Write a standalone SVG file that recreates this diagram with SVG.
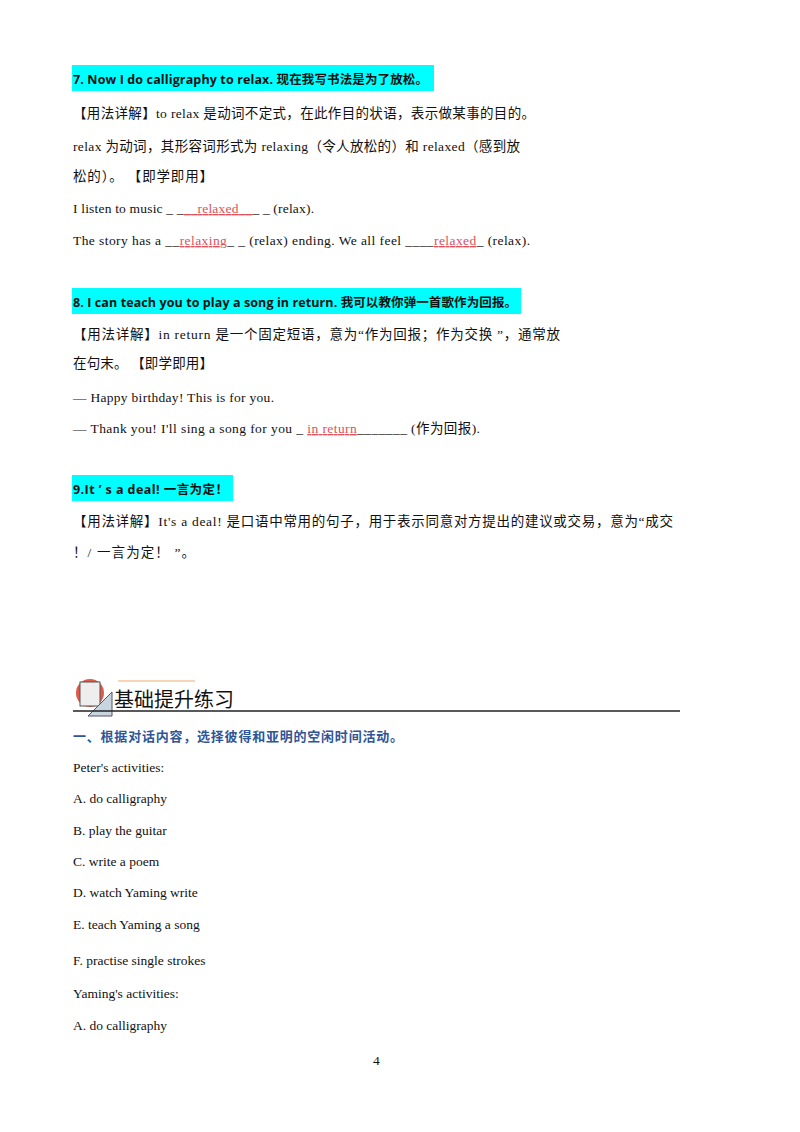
<svg xmlns="http://www.w3.org/2000/svg" width="800" height="1132" viewBox="0 0 800 1132">
<style>
.t{font-family:"Liberation Serif","Noto Sans CJK SC",serif;font-size:13.5px;fill:#111}
.h{font-family:"Open Sans","Noto Sans CJK SC",sans-serif;font-size:12.5px;font-weight:bold;fill:#111}
.r{fill:#e0505a}
.b{font-family:"Noto Sans CJK SC",sans-serif;font-size:13px;font-weight:bold;fill:#2f5597}
.hl{fill:#00ffff}
</style>
<rect width="800" height="1132" fill="#fff"/>
<rect class="hl" x="72" y="65" width="362" height="26"/>
<text class="h" x="73" y="84" textLength="355" lengthAdjust="spacing">7. Now I do calligraphy to relax.  现在我写书法是为了放松。</text>
<text class="t" x="73" y="118" textLength="462" lengthAdjust="spacing">【用法详解】to relax 是动词不定式，在此作目的状语，表示做某事的目的。</text>
<text class="t" x="73" y="151" textLength="447" lengthAdjust="spacing">relax 为动词，其形容词形式为 relaxing（令人放松的）和 relaxed（感到放</text>
<text class="t" x="73" y="181" textLength="140" lengthAdjust="spacing">松的）。 【即学即用】</text>
<text class="t" x="73" y="213" textLength="241" lengthAdjust="spacing">I listen to music _ _<tspan class="r" text-decoration="underline">__relaxed__</tspan>_ _ (relax).</text>
<text class="t" x="73" y="245" textLength="457" lengthAdjust="spacing">The story has a __<tspan class="r" text-decoration="underline">relaxing</tspan>_ _ (relax) ending. We all feel ____<tspan class="r" text-decoration="underline">relaxed</tspan>_ (relax).</text>
<rect class="hl" x="72" y="288" width="449" height="26"/>
<text class="h" x="73" y="307" textLength="444" lengthAdjust="spacing">8. I can teach you to play a song in return.  我可以教你弹一首歌作为回报。</text>
<text class="t" x="73" y="339" textLength="487" lengthAdjust="spacing">【用法详解】in return 是一个固定短语，意为“作为回报；作为交换 ”，通常放</text>
<text class="t" x="73" y="368" textLength="140" lengthAdjust="spacing">在句末。 【即学即用】</text>
<text class="t" x="73" y="402" textLength="201" lengthAdjust="spacing">—  Happy birthday! This is for you.</text>
<text class="t" x="73" y="433" textLength="407" lengthAdjust="spacing">—  Thank you! I'll sing a song for you _ <tspan class="r" text-decoration="underline">in return</tspan>_______ (作为回报).</text>
<rect class="hl" x="72" y="475" width="161" height="26"/>
<text class="h" x="73" y="494" textLength="155" lengthAdjust="spacing">9.It ’ s a deal!  一言为定！</text>
<text class="t" x="73" y="526" textLength="600" lengthAdjust="spacing">【用法详解】It's a deal! 是口语中常用的句子，用于表示同意对方提出的建议或交易，意为“成交</text>
<text class="t" x="73" y="557" textLength="122" lengthAdjust="spacing">！/  一言为定！ ”。</text>
<g id="icon">
<line x1="118" y1="681" x2="195" y2="681" stroke="#f5c9a0" stroke-width="1.5"/>
<circle cx="90" cy="693" r="14" fill="#e05a4a"/>
<rect x="80" y="682" width="20" height="24" fill="#eee" stroke="#555"/>
<polygon points="88,716 112,716 112,692" fill="#c8d4e0" stroke="#556"/>
</g>
<text x="114" y="707" font-family="Noto Sans CJK SC,sans-serif" font-size="20" fill="#111">基础提升练习</text>
<line x1="73" y1="711" x2="680" y2="711" stroke="#222" stroke-width="1.5"/>
<text class="b" x="73" y="741" textLength="330" lengthAdjust="spacing">一、根据对话内容，选择彼得和亚明的空闲时间活动。</text>
<text class="t" x="73" y="772">Peter's activities:</text>
<text class="t" x="73" y="803">A.  do calligraphy</text>
<text class="t" x="73" y="835">B.  play the guitar</text>
<text class="t" x="73" y="866">C.  write a poem</text>
<text class="t" x="73" y="897">D.  watch Yaming write</text>
<text class="t" x="73" y="929">E.  teach Yaming a song</text>
<text class="t" x="73" y="965">F.  practise single strokes</text>
<text class="t" x="73" y="998">Yaming's activities:</text>
<text class="t" x="73" y="1030">A.  do calligraphy</text>
<text class="t" x="373" y="1065">4</text>
</svg>
